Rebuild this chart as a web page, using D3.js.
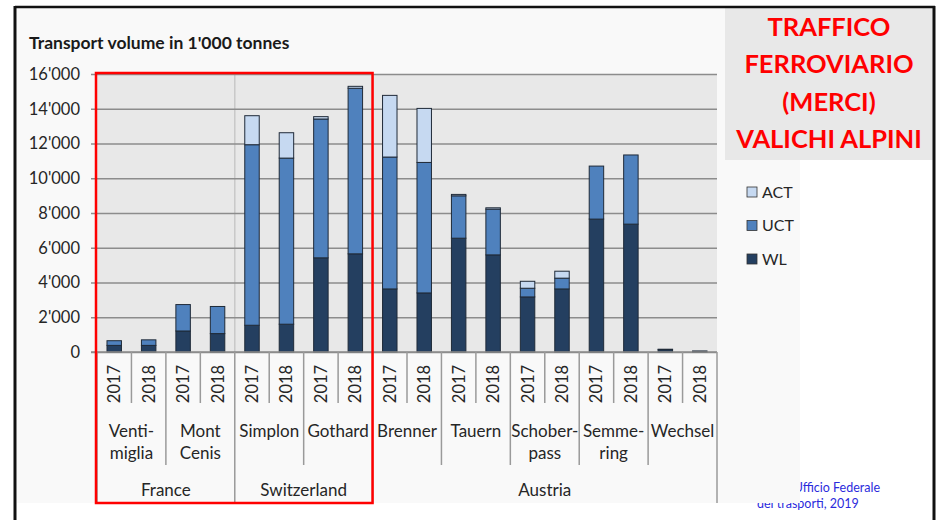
<!DOCTYPE html>
<html><head><meta charset="utf-8">
<script src="https://cdn.jsdelivr.net/npm/d3@7/dist/d3.min.js"></script>
<style>body{margin:0;background:#fff;} svg{display:block;font-family:Lato,"Open Sans",sans-serif;}</style>
</head><body>
<script>
// ---------- data ----------
const countries = ["France", "Switzerland", "Austria"];
const passes = ["Ventimiglia", "Mont Cenis", "Simplon", "Gothard", "Brenner", "Tauern", "Schoberpass", "Semmering", "Wechsel"];
const passLabels = [["Venti-", "miglia"], ["Mont", "Cenis"], ["Simplon"], ["Gothard"], ["Brenner"], ["Tauern"], ["Schober-", "pass"], ["Semme-", "ring"], ["Wechsel"]];
const passCountry = ["France", "France", "Switzerland", "Switzerland", "Austria", "Austria", "Austria", "Austria", "Austria"];
const years = ["2017", "2018"];
// values in 1'000 tonnes, order: pass x year
const WL  = [380, 380, 1210, 1060, 1540, 1600, 5420, 5650, 3630, 3400, 6550, 5590, 3170, 3630, 7650, 7360, 130, 60];
const UCT = [270, 320, 1520, 1560, 10390, 9560, 7990, 9530, 7590, 7510, 2440, 2630, 500, 620, 3050, 3980, 30, 0];
const ACT = [0, 0, 0, 0, 1670, 1460, 135, 110, 3550, 3110, 80, 80, 400, 400, 0, 0, 0, 0];
const seriesNames = ["WL", "UCT", "ACT"];
const legendOrder = ["ACT", "UCT", "WL"];
const yTicks = [0, 2000, 4000, 6000, 8000, 10000, 12000, 14000, 16000];
const yTitle = "Transport volume in 1'000 tonnes";
const titleLines = ["TRAFFICO", "FERROVIARIO", "(MERCI)", "VALICHI ALPINI"];
const sourceLines = ["Ufficio Federale", "dei trasporti, 2019"];

// ---------- setup ----------
const W = 941, H = 520;
const colors = {ACT: "#c6d9f1", UCT: "#4f81bd", WL: "#243f60"};
const svg = d3.select("body").append("svg").attr("width", W).attr("height", H);

const rows = [];
passes.forEach((p, i) => years.forEach((yr, j) => {
  const k = i * 2 + j;
  rows.push({key: p + "|" + yr, pass: p, year: yr, WL: WL[k], UCT: UCT[k], ACT: ACT[k]});
}));

const x = d3.scaleBand().domain(rows.map(d => d.key)).range([97, 717]).padding(0);
const y = d3.scaleLinear().domain([0, 16000]).range([352, 74]);
const fmt = d3.formatLocale({decimal: ".", thousands: "'", grouping: [3], currency: ["", ""]}).format(",");

// source text (partly hidden by chart area, as in original)
svg.append("text").attr("x", 880).attr("y", 492).attr("text-anchor", "end")
  .attr("font-size", 12.5).attr("fill", "#2b2bdc").text(sourceLines[0]);
svg.append("text").attr("x", 757).attr("y", 508).attr("text-anchor", "start")
  .attr("font-size", 12.5).attr("fill", "#2b2bdc").text(sourceLines[1]);

// chart area background
svg.append("rect").attr("x", 17).attr("y", 8).attr("width", 783).attr("height", 495).attr("fill", "#f9f9f9");

// title box
svg.append("rect").attr("x", 725).attr("y", 8).attr("width", 208).attr("height", 152).attr("fill", "#e8e8e8");
svg.append("g").selectAll("text").data(titleLines).join("text")
  .attr("x", 829).attr("y", (d, i) => 36 + i * 37.3).attr("text-anchor", "middle")
  .attr("font-size", 25.5).attr("font-weight", 700).attr("fill", "#ff0000").text(d => d);

// plot background
svg.append("rect").attr("x", 97).attr("y", y(16000)).attr("width", 620).attr("height", y(0) - y(16000)).attr("fill", "#e8e8e8");

// country separators inside plot
const countryStart = countries.map(c => passCountry.indexOf(c));
countryStart.slice(1).forEach(ci => {
  const xx = x(passes[ci] + "|2017");
  svg.append("line").attr("x1", xx).attr("x2", xx).attr("y1", y(16000)).attr("y2", y(0))
    .attr("stroke", "#c8c8c8").attr("stroke-width", 1.5);
});

// y axis: gridlines + labels
const yAxis = d3.axisLeft(y).tickValues(yTicks).tickFormat(fmt).tickSize(-626).tickPadding(11);
const gy = svg.append("g").attr("transform", "translate(91,0)").call(yAxis);
gy.select(".domain").remove();
gy.selectAll(".tick line").attr("stroke", "#8c8c8c").attr("stroke-width", 1.6);
gy.selectAll(".tick text").attr("font-family", "Lato, 'Open Sans', sans-serif")
  .attr("font-size", 16.5).attr("fill", "#262626");

// stacked bars
const stack = d3.stack().keys(seriesNames)(rows);
const bw = x.bandwidth() * 0.42;
svg.append("g").selectAll("g").data(stack).join("g")
  .attr("fill", d => colors[d.key])
  .selectAll("rect").data(d => d.filter(s => s[1] - s[0] > 0)).join("rect")
  .attr("x", d => x(d.data.key) + (x.bandwidth() - bw) / 2)
  .attr("y", d => y(d[1]))
  .attr("width", bw)
  .attr("height", d => y(d[0]) - y(d[1]))
  .attr("stroke", "#1f2a38").attr("stroke-width", 1);

// x axis line
svg.append("line").attr("x1", 91).attr("x2", 717).attr("y1", y(0)).attr("y2", y(0))
  .attr("stroke", "#8c8c8c").attr("stroke-width", 1.6);

// multi-level category axis
const sepColor = "#9a9a9a";
const seps = svg.append("g").attr("stroke", sepColor).attr("stroke-width", 1.5);
rows.forEach((d, k) => {
  const xx = x(d.key);
  let bottom = 403;
  if (d.year === "2017") {
    const pi = passes.indexOf(d.pass);
    bottom = (pi === 0 || passCountry[pi] !== passCountry[pi - 1]) ? 503 : 465;
  }
  seps.append("line").attr("x1", xx).attr("x2", xx).attr("y1", y(0)).attr("y2", bottom);
});
seps.append("line").attr("x1", 717).attr("x2", 717).attr("y1", y(0)).attr("y2", 503);

// year labels
svg.append("g").selectAll("text").data(rows).join("text")
  .attr("transform", d => `translate(${x(d.key) + x.bandwidth() / 2},384) rotate(-90)`)
  .attr("text-anchor", "middle").attr("dy", "0.36em")
  .attr("font-size", 16.5).attr("fill", "#262626").text(d => d.year);

// pass labels
passes.forEach((p, i) => {
  const cx = x(p + "|2017") + x.bandwidth();
  const t = svg.append("text").attr("text-anchor", "middle").attr("font-size", 17).attr("fill", "#262626");
  passLabels[i].forEach((ln, j) => {
    t.append("tspan").attr("x", cx).attr("y", 437 + j * 22).text(ln);
  });
});

// country labels
countries.forEach(c => {
  const idx = passes.filter((p, i) => passCountry[i] === c);
  const x0 = x(idx[0] + "|2017"), x1 = x(idx[idx.length - 1] + "|2018") + x.bandwidth();
  svg.append("text").attr("x", (x0 + x1) / 2).attr("y", 496).attr("text-anchor", "middle")
    .attr("font-size", 17).attr("fill", "#262626").text(c);
});

// y axis title
svg.append("text").attr("x", 29).attr("y", 49).attr("font-size", 17.5).attr("font-weight", 700)
  .attr("fill", "#1a1a1a").text(yTitle);

// legend
const lg = svg.append("g").selectAll("g").data(legendOrder).join("g")
  .attr("transform", (d, i) => `translate(747,${192 + i * 33.5})`);
lg.append("rect").attr("x", 0).attr("y", -5).attr("width", 10).attr("height", 10)
  .attr("fill", d => colors[d]).attr("stroke", "#333").attr("stroke-width", 0.8);
lg.append("text").attr("x", 15).attr("y", 0).attr("dy", "0.36em").attr("font-size", 16)
  .attr("fill", "#262626").text(d => d);

// red highlight box (France + Switzerland)
const swLast = passes[passCountry.lastIndexOf("Switzerland")];
const rx0 = x(passes[0] + "|2017") - 1, rx1 = x(swLast + "|2018") + x.bandwidth();
svg.append("rect").attr("x", rx0).attr("y", y(16000) - 1).attr("width", rx1 - rx0).attr("height", 503 - y(16000) + 1)
  .attr("fill", "none").attr("stroke", "#ff0000").attr("stroke-width", 2.5);

// outer frame
svg.append("line").attr("x1", 15).attr("x2", 935).attr("y1", 7).attr("y2", 7).attr("stroke", "#111").attr("stroke-width", 2.5);
svg.append("line").attr("x1", 15).attr("x2", 15).attr("y1", 6).attr("y2", 520).attr("stroke", "#111").attr("stroke-width", 3);
svg.append("line").attr("x1", 934).attr("x2", 934).attr("y1", 6).attr("y2", 520).attr("stroke", "#111").attr("stroke-width", 3);
</script>
</body></html>
